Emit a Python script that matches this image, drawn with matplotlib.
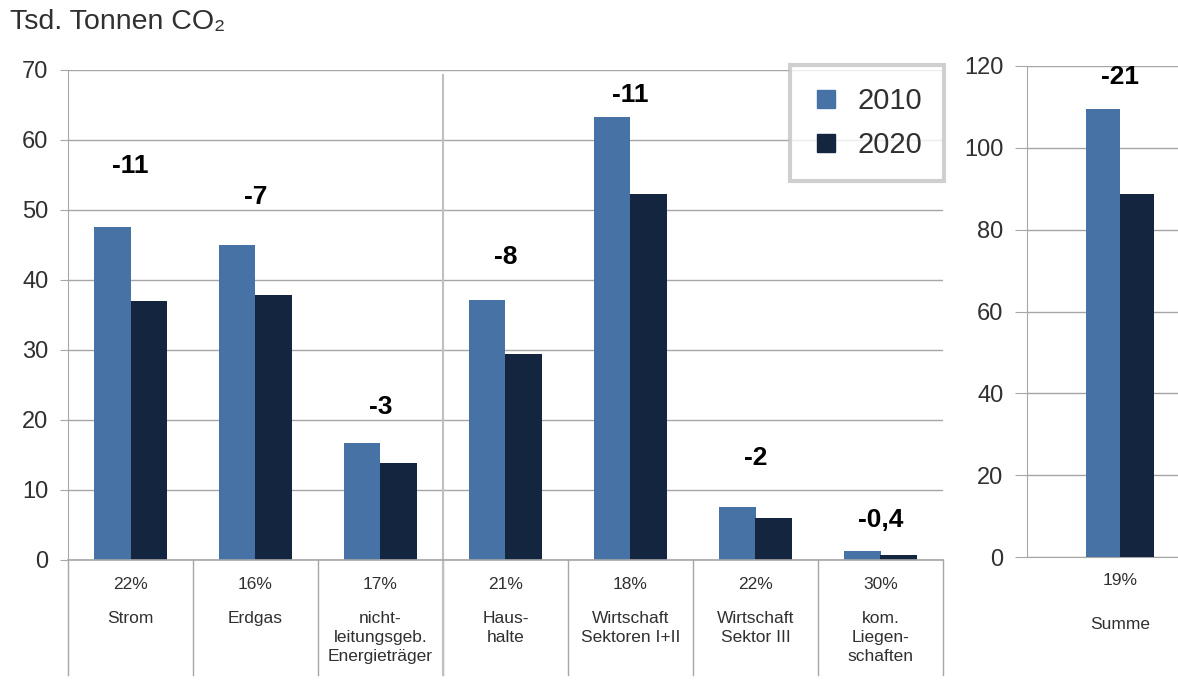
import matplotlib.pyplot as plt
from matplotlib.lines import Line2D
import numpy as np

plt.rcParams['font.family'] = ['Liberation Sans', 'DejaVu Sans']

# data
categories = ['Strom', 'Erdgas', 'nicht-\nleitungsgeb.\nEnergieträger', 'Haus-\nhalte',
              'Wirtschaft\nSektoren I+II', 'Wirtschaft\nSektor III', 'kom.\nLiegen-\nschaften']
v2010 = [47.6, 45.0, 16.7, 37.1, 63.3, 7.6, 1.3]
v2020 = [37.0, 37.9, 13.9, 29.4, 52.3, 6.0, 0.7]
deltas = ['-11', '-7', '-3', '-8', '-11', '-2', '-0,4']
shares = ['22%', '16%', '17%', '21%', '18%', '22%', '30%']

sum_category = 'Summe'
sum_2010 = 109.5
sum_2020 = 88.8
sum_delta = '-21'
sum_share = '19%'

c2010 = '#4672a6'
c2020 = '#13253f'
grid_c = '#a6a6a6'
txt_c = '#303030'

# heights of the delta labels (layout, in data units)
delta_y = [56.3, 51.9, 21.9, 43.3, 66.4, 14.6, 5.7]
sum_delta_y = 117.4

fig = plt.figure(figsize=(11.78, 6.95), dpi=100)
ax = fig.add_axes([68/1178, 1-560/695, 875/1178, 490/695])
ax2 = fig.add_axes([1027/1178, 1-557/695, 151/1178, 491/695])

w = 0.29
x = np.arange(len(categories))
ax.bar(x - w/2, v2010, w, color=c2010, zorder=3)
ax.bar(x + w/2, v2020, w, color=c2020, zorder=3)
ax.set_xlim(-0.5, len(categories) - 0.5)
ax.set_ylim(0, 70)
ax.set_yticks(range(0, 71, 10))
ax.set_xticks([])
ax.grid(axis='y', color=grid_c, linewidth=1, zorder=0)
for s in ['top', 'right', 'bottom']:
    ax.spines[s].set_visible(False)
ax.spines['left'].set_color(grid_c)
ax.tick_params(axis='y', length=6, color=grid_c, labelsize=17, labelcolor=txt_c, pad=8)

for i in range(len(categories)):
    ax.text(x[i], delta_y[i], deltas[i], ha='center', va='center',
            fontsize=19, fontweight='bold', color='black')
    ax.text(x[i], -0.051, shares[i], transform=ax.get_xaxis_transform(),
            ha='center', va='center', fontsize=12.5, color=txt_c)
    ax.text(x[i], -0.105, categories[i], transform=ax.get_xaxis_transform(),
            ha='center', va='top', fontsize=12.5, color=txt_c, linespacing=1.3)

# category separators below the axis
for b in np.arange(-0.5, len(categories), 1.0):
    ax.plot([b, b], [0, -0.235], transform=ax.get_xaxis_transform(),
            color=grid_c, linewidth=1, clip_on=False)
ax.plot([-0.5, len(categories) - 0.5], [0, 0], transform=ax.get_xaxis_transform(),
        color=grid_c, linewidth=1.2, clip_on=False, zorder=4)
# divider between energy carriers and sectors
ax.plot([2.5, 2.5], [0.99, -0.235], transform=ax.get_xaxis_transform(),
        color='#c0c0c0', linewidth=1.5, clip_on=False)

# Summe panel
w2 = 0.225
ax2.bar(-w2/2, sum_2010, w2, color=c2010, zorder=3)
ax2.bar(w2/2, sum_2020, w2, color=c2020, zorder=3)
ax2.set_xlim(-0.616, 0.384)
ax2.set_ylim(0, 120)
ax2.set_yticks(range(0, 121, 20))
ax2.set_xticks([])
ax2.grid(axis='y', color=grid_c, linewidth=1, zorder=0)
for s in ['top', 'right']:
    ax2.spines[s].set_visible(False)
ax2.spines['left'].set_color(grid_c)
ax2.spines['bottom'].set_color(grid_c)
ax2.tick_params(axis='y', length=9, color=grid_c, labelsize=17, labelcolor=txt_c, pad=8)
ax2.text(0, sum_delta_y, sum_delta, ha='center', va='center',
         fontsize=19, fontweight='bold', color='black')
ax2.text(0, -0.047, sum_share, transform=ax2.get_xaxis_transform(),
         ha='center', va='center', fontsize=12.5, color=txt_c)
ax2.text(0, -0.138, sum_category, transform=ax2.get_xaxis_transform(),
         ha='center', va='center', fontsize=12.5, color=txt_c)

fig.text(10/1178, 1-22/695, 'Tsd. Tonnen CO₂', ha='left', va='center',
         fontsize=20.5, color=txt_c)

handles = [Line2D([], [], marker='s', linestyle='none', markersize=13, color=c2010),
           Line2D([], [], marker='s', linestyle='none', markersize=13, color=c2020)]
leg = fig.legend(handles, ['2010', '2020'], loc='upper left',
                 bbox_to_anchor=(790/1178, 1-65/695), fontsize=21,
                 frameon=True, fancybox=False, handlelength=1.0, handletextpad=0.55,
                 labelspacing=0.55, borderpad=0.75, borderaxespad=0)
leg.get_frame().set_edgecolor('#c4c4c4')
leg.get_frame().set_linewidth(3)
for t in leg.get_texts():
    t.set_color(txt_c)

fig.savefig('out.png', dpi=100, facecolor='white')
